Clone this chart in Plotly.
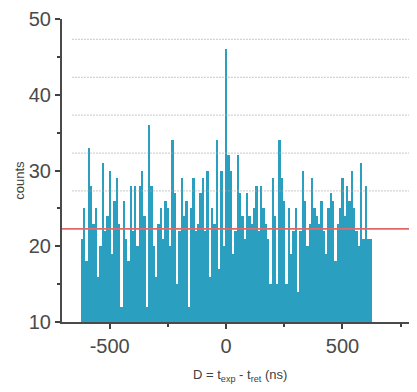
import numpy as np
import plotly.graph_objects as go

# Histogram of D = t_exp - t_ret, 10 ns bins from -625 to 625 ns
bin_start = -620
bin_width = 10
counts = [
    21, 25, 18, 33, 28, 23, 25, 16, 20, 31,
    22, 24, 30, 19, 26, 29, 23, 12, 26, 21,
    18, 28, 22, 28, 20,
    28, 30, 24, 12, 36, 28, 20, 16, 23, 25, 21, 26, 25, 20, 34, 27, 15, 22, 29, 24, 26, 12, 25, 29, 22,
    23, 27, 29, 22, 30, 16, 25, 23, 34, 17, 30, 20, 46, 32, 30, 19, 22, 32, 27, 24, 21, 27, 24, 23,
    25, 28, 22, 28, 25, 23, 21, 15, 29, 24, 15, 34, 29, 26, 15, 25, 19, 22, 25, 14, 22, 30, 26, 20, 23, 29,
    25, 24, 23, 26, 22, 19, 25, 27, 26, 18, 23, 25, 29, 24, 28, 26, 30, 25, 22, 20, 31, 21, 28, 21, 21,
]
centers = [bin_start + bin_width * i for i in range(len(counts))]

mean_level = 22.3
dotted_levels = [27.3, 32.3, 37.3, 42.3, 47.3]
x_range = [-705, 790]
y_range = [10, 50]

fig = go.Figure()
fig.add_trace(go.Bar(
    x=centers, y=counts, width=bin_width,
    marker=dict(color="#2a9fbf", line=dict(width=0)),
    showlegend=False,
))

shapes = []
for lv in dotted_levels:
    shapes.append(dict(type="line", xref="x", yref="y", x0=-660, x1=x_range[1],
                       y0=lv, y1=lv, line=dict(color="#a8a8a8", width=1.2, dash="1px,2px"),
                       layer="above"))
shapes.append(dict(type="line", xref="x", yref="y", x0=x_range[0], x1=x_range[1],
                   y0=mean_level, y1=mean_level, line=dict(color="#e06a6a", width=1.6),
                   layer="above"))

axis_font = dict(family="Liberation Sans, Arial, sans-serif", size=20, color="#4a4a4a")
title_font = dict(family="Liberation Sans, Arial, sans-serif", size=13, color="#404040")

fig.update_layout(
    width=409, height=384,
    margin=dict(l=54, r=7, t=11, b=70),
    paper_bgcolor="white", plot_bgcolor="white",
    bargap=0,
    shapes=shapes,
    xaxis=dict(range=x_range, tickvals=[-500, 0, 500], ticktext=["-500", "0", "500"],
               automargin=False,
               ticks="outside", ticklen=5, tickwidth=1.5, tickcolor="#404040",
               showline=True, linecolor="#4a4a4a", linewidth=2, showgrid=False, zeroline=False,
               tickfont=axis_font,
               minor=dict(tickvals=[-750, -250, 250, 750], ticks="outside", ticklen=3,
                          tickwidth=1.5, tickcolor="#404040", showgrid=False)),
    yaxis=dict(range=y_range, tickvals=[10, 20, 30, 40, 50],
               automargin=False,
               ticks="outside", ticklen=5, tickwidth=1.5, tickcolor="#404040",
               showline=True, linecolor="#4a4a4a", linewidth=2, showgrid=False, zeroline=False,
               tickfont=axis_font,
               minor=dict(tickvals=[15, 25, 35, 45], ticks="outside", ticklen=3,
                          tickwidth=1.5, tickcolor="#404040", showgrid=False)),
    annotations=[
        dict(text="counts", xref="paper", yref="paper", x=-0.121, y=0.469,
             xanchor="center", yanchor="middle",
             showarrow=False, textangle=-90, font=title_font),
        dict(text="D = t<sub>exp</sub> - t<sub>ret</sub> (ns)", xref="paper", yref="paper",
             x=0.511, y=-0.175, xanchor="center", yanchor="middle",
             showarrow=False, font=title_font),
    ],
)

fig.write_html("out.html")
